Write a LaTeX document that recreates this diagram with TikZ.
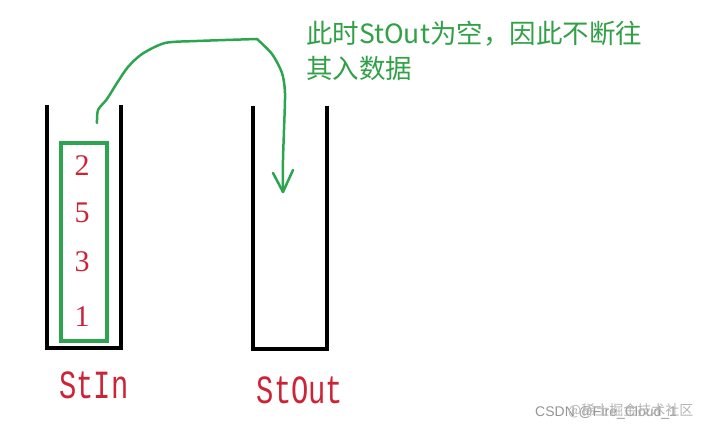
\documentclass[tikz,border=0pt]{standalone}
\usepackage{fontspec}
\setmainfont{Liberation Serif}
\newfontfamily\cjk{Noto Sans CJK SC}
\newfontfamily\lblfont[FakeStretch=0.72]{Liberation Mono}
\newfontfamily\wmfont{Liberation Sans}
\definecolor{pgreen}{RGB}{45,165,80}
\definecolor{tgreen}{RGB}{50,160,70}
\definecolor{pred}{RGB}{205,35,55}
\definecolor{wgray}{RGB}{150,150,150}
\begin{document}
\begin{tikzpicture}[x=1pt,y=-1pt,
  wall/.style={line width=4.5pt,line cap=rect},
  stackbox/.style={draw=pgreen,line width=3.5pt},
  digit/.style={text=pred,font=\fontsize{30}{30}\selectfont,inner sep=0pt},
  lbl/.style={text=pred,font=\lblfont\fontsize{40}{40}\selectfont,inner sep=0pt},
  note/.style={text=tgreen,font=\cjk\fontsize{26.5}{35}\selectfont,align=left,anchor=north west,inner sep=0pt},
  curve/.style={draw=pgreen,line width=2.5pt,line cap=round,line join=round},
  wm/.style={text=wgray,font=\wmfont\fontsize{14}{14}\selectfont,inner sep=0pt,anchor=west}]
\useasboundingbox[fill=white] (0,0) rectangle (716,433);
% containers
\draw[wall] (47,107) -- (47,348) -- (121,348) -- (121,107);
\draw[wall] (253,108) -- (253,349) -- (327,349) -- (327,108);
% green stack box
\node[stackbox,minimum width=46pt,minimum height=198pt,inner sep=0pt] (box) at (84,242) {};
\node[digit] (d2) at (82,166) {2};
\node[digit] (d5) at (82,213) {5};
\node[digit] (d3) at (82,262) {3};
\node[digit] (d1) at (82,317) {1};
% labels
\node[lbl] (stin) at (94,385) {StIn};
\node[lbl] (stout) at (300,390) {StOut};
% curve
\coordinate (cs) at (97,123);
\coordinate (tip) at (283,192);
\draw[curve] plot[smooth,tension=0.45] coordinates {(cs) (98,110) (107,99) (117,83) (128,67) (142,54) (165,43) (197,41) (257,39)};
\draw[curve] plot[smooth,tension=0.45] coordinates {(257,39) (272,54) (282,73) (285,93) (284,130) (283,160) (tip)};
\draw[curve] (273,173) -- (tip) -- (293,170);
% note
\node[note] (txt) at (306,21) {此时StOut为空，因此不断往\\其入数据};
% watermark
\node[wm] (wm1) at (535,413) {CSDN @Fire\_Cloud\_1};
\node[wm,text=wgray!70] (wm2) at (568,411) {\cjk @稀土掘金技术社区};
\end{tikzpicture}
\end{document}
